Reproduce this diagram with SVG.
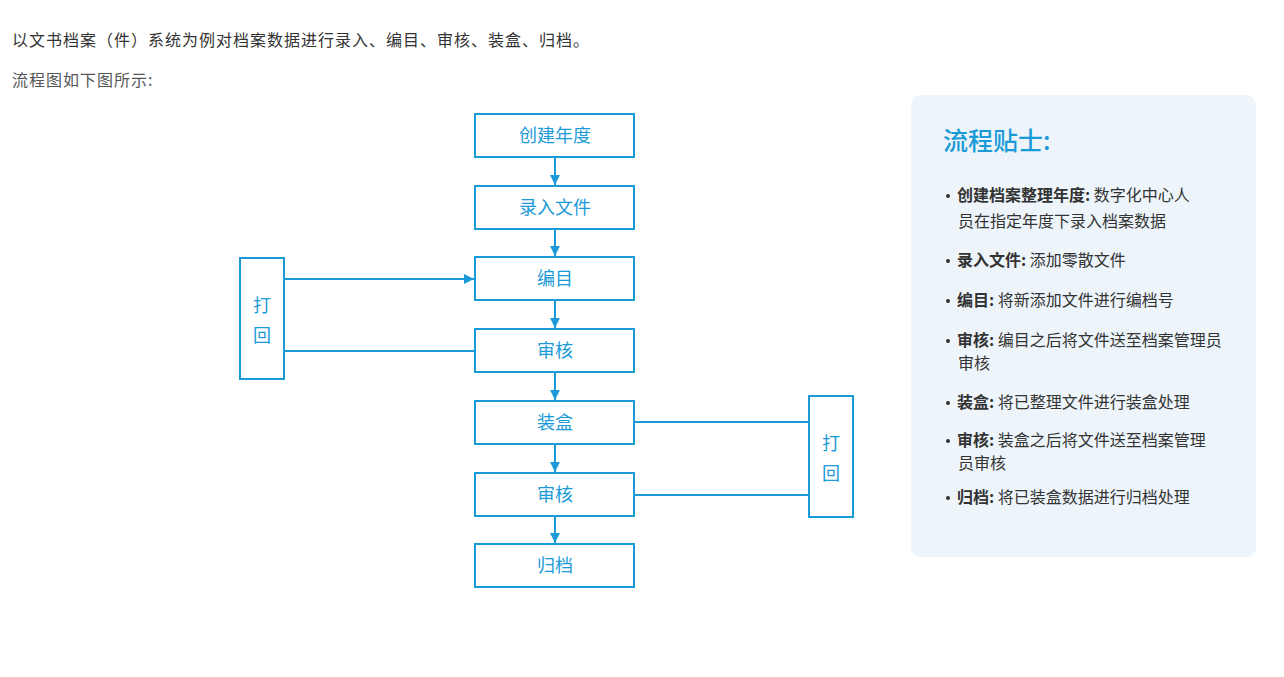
<svg xmlns="http://www.w3.org/2000/svg" width="1284" height="677" viewBox="0 0 1284 677">
<defs>
<style>
.box{fill:#ffffff;stroke:#1b9ad8;stroke-width:2}
.bt{font-family:"Noto Sans CJK SC","Noto Sans",sans-serif;font-size:18px;fill:#1b9ad8;text-anchor:middle}
.ln{stroke:#1b9ad8;stroke-width:2;fill:none}
.intro{font-family:"Noto Sans CJK SC","Noto Sans",sans-serif;font-size:16px;letter-spacing:1px;fill:#333333}
.tip{font-family:"Noto Sans CJK SC","Noto Sans",sans-serif;font-size:16px;fill:#333333}
.tb{font-weight:bold}
</style>
<marker id="ah" viewBox="0 0 10 10" refX="10" refY="5" markerWidth="10" markerHeight="10" orient="auto" markerUnits="userSpaceOnUse">
<path d="M0,0 L10,5 L0,10 z" fill="#1b9ad8"/>
</marker>
</defs>
<rect width="1284" height="677" fill="#ffffff"/>
<g id="intro">
<text class="intro" x="12" y="46">以文书档案（件）系统为例对档案数据进行录入、编目、审核、装盒、归档。</text>
<text class="intro" x="12" y="86" style="fill:#555555">流程图如下图所示:</text>
</g>
<g id="connectors">
<line class="ln" x1="555" y1="158" x2="555" y2="185" marker-end="url(#ah)"/>
<line class="ln" x1="555" y1="230" x2="555" y2="256" marker-end="url(#ah)"/>
<line class="ln" x1="555" y1="301" x2="555" y2="328" marker-end="url(#ah)"/>
<line class="ln" x1="555" y1="373" x2="555" y2="400" marker-end="url(#ah)"/>
<line class="ln" x1="555" y1="445" x2="555" y2="472" marker-end="url(#ah)"/>
<line class="ln" x1="555" y1="517" x2="555" y2="543" marker-end="url(#ah)"/>
<line class="ln" x1="285" y1="279" x2="474" y2="279" marker-end="url(#ah)"/>
<line class="ln" x1="285" y1="351" x2="475" y2="351"/>
<line class="ln" x1="635" y1="422" x2="809" y2="422"/>
<line class="ln" x1="635" y1="495" x2="809" y2="495"/>
</g>
<g id="n1"><rect class="box" x="475" y="114" width="159" height="43"/><text class="bt" x="555" y="142">创建年度</text></g>
<g id="n2"><rect class="box" x="475" y="186" width="159" height="43"/><text class="bt" x="555" y="214">录入文件</text></g>
<g id="n3"><rect class="box" x="475" y="257" width="159" height="43"/><text class="bt" x="555" y="285">编目</text></g>
<g id="n4"><rect class="box" x="475" y="329" width="159" height="43"/><text class="bt" x="555" y="357">审核</text></g>
<g id="n5"><rect class="box" x="475" y="401" width="159" height="43"/><text class="bt" x="555" y="429">装盒</text></g>
<g id="n6"><rect class="box" x="475" y="473" width="159" height="43"/><text class="bt" x="555" y="501">审核</text></g>
<g id="n7"><rect class="box" x="475" y="544" width="159" height="43"/><text class="bt" x="555" y="572">归档</text></g>
<g id="reject1"><rect class="box" x="240" y="258" width="44" height="121"/><text class="bt" x="262" y="312">打</text><text class="bt" x="262" y="342">回</text></g>
<g id="reject2"><rect class="box" x="809" y="396" width="44" height="121"/><text class="bt" x="831" y="450">打</text><text class="bt" x="831" y="480">回</text></g>
<g id="tips">
<rect x="911" y="95" width="345" height="462" rx="10" fill="#edf5fb"/>
<text x="943" y="150" font-family="'Noto Sans CJK SC','Noto Sans',sans-serif" font-size="25" font-weight="500" fill="#1b9ad8">流程贴士:</text>
<g class="tip">
<circle cx="948" cy="196" r="2" fill="#333"/>
<text x="957" y="201"><tspan class="tb">创建档案整理年度:</tspan> 数字化中心人</text>
<text x="958" y="227">员在指定年度下录入档案数据</text>
<circle cx="948" cy="261" r="2" fill="#333"/>
<text x="957" y="266"><tspan class="tb">录入文件:</tspan> 添加零散文件</text>
<circle cx="948" cy="301" r="2" fill="#333"/>
<text x="957" y="306"><tspan class="tb">编目:</tspan> 将新添加文件进行编档号</text>
<circle cx="948" cy="341" r="2" fill="#333"/>
<text x="957" y="346"><tspan class="tb">审核:</tspan> 编目之后将文件送至档案管理员</text>
<text x="958" y="369">审核</text>
<circle cx="948" cy="403" r="2" fill="#333"/>
<text x="957" y="408"><tspan class="tb">装盒:</tspan> 将已整理文件进行装盒处理</text>
<circle cx="948" cy="441" r="2" fill="#333"/>
<text x="957" y="446"><tspan class="tb">审核:</tspan> 装盒之后将文件送至档案管理</text>
<text x="958" y="469">员审核</text>
<circle cx="948" cy="498" r="2" fill="#333"/>
<text x="957" y="503"><tspan class="tb">归档:</tspan> 将已装盒数据进行归档处理</text>
</g>
</g>
</svg>
